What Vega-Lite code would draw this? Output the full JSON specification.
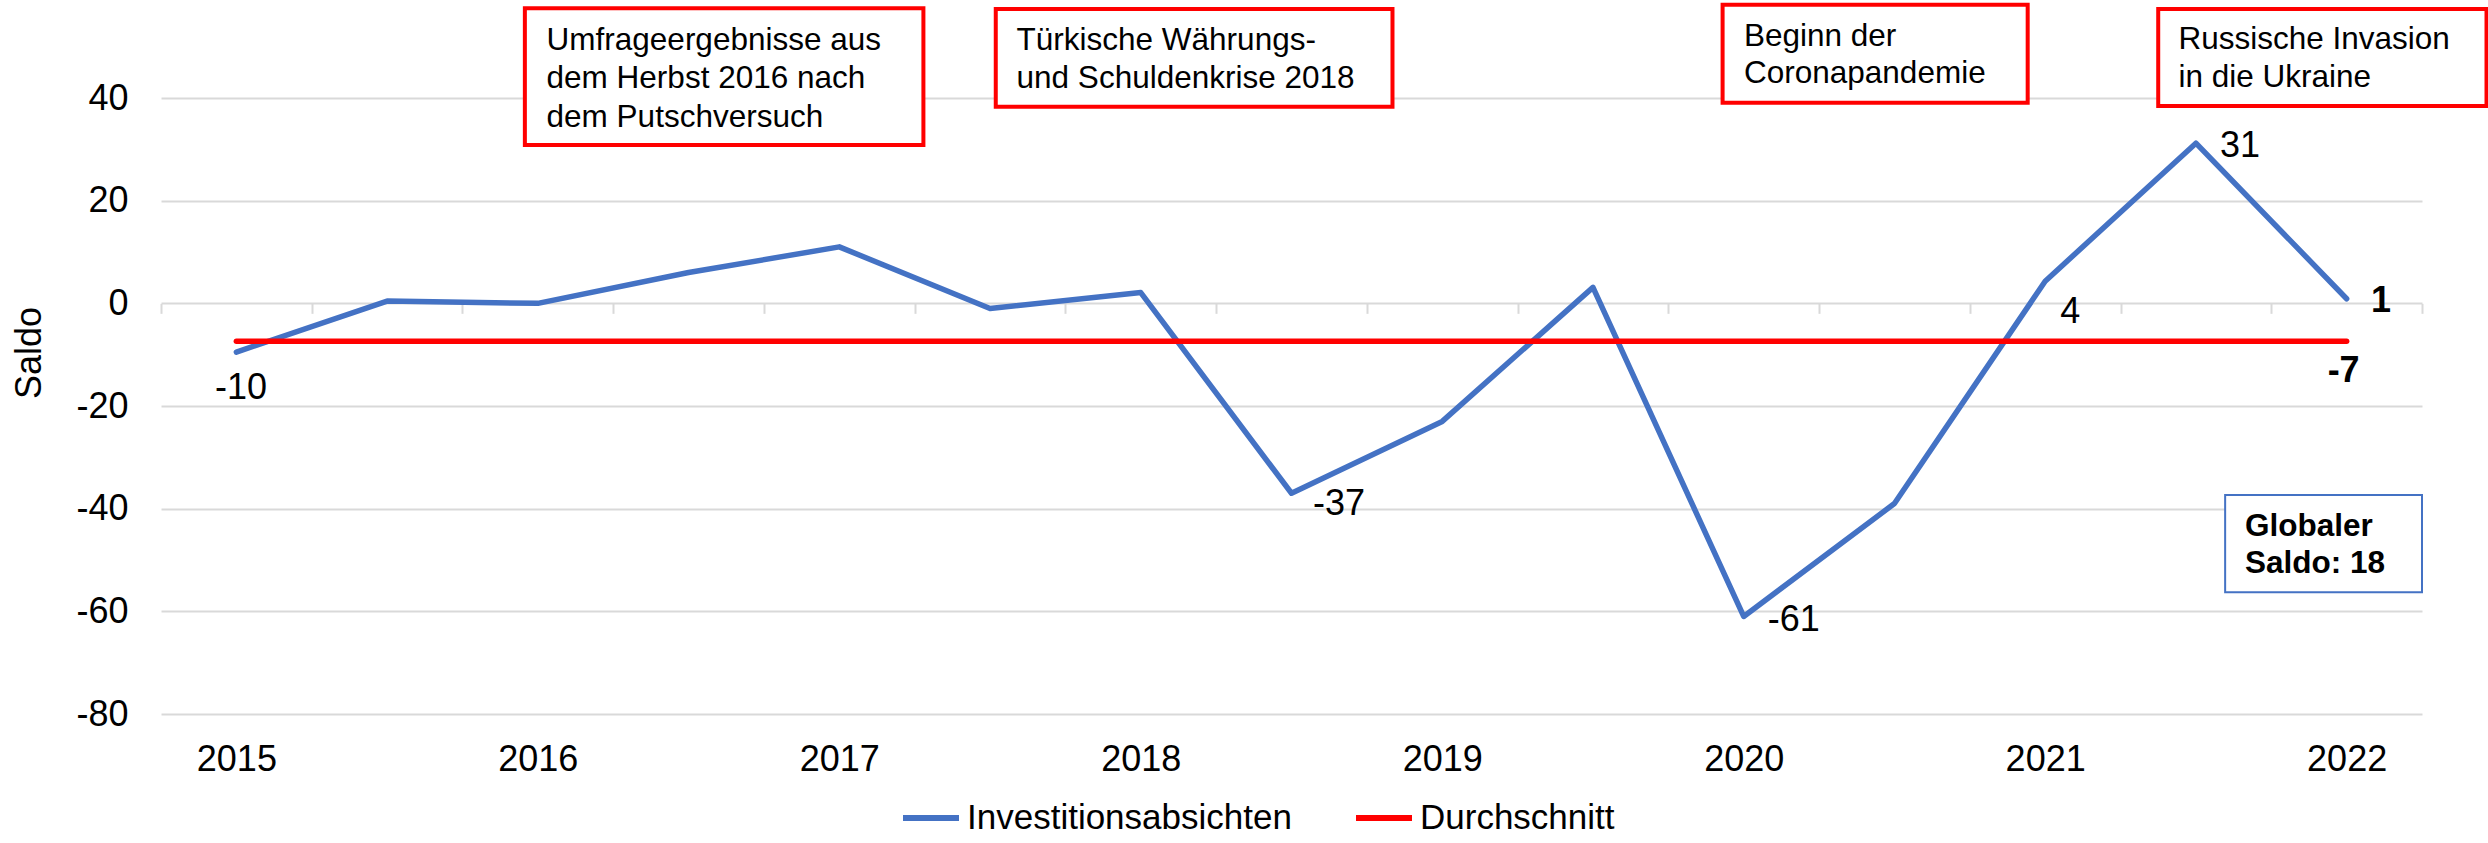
{
  "$schema": "https://vega.github.io/schema/vega-lite/v6.json",
  "width": 2261,
  "height": 616,
  "autosize": {"type": "none"},
  "padding": {"left": 161, "top": 98, "right": 66, "bottom": 129},
  "background": "white",
  "config": {
    "view": {"stroke": null},
    "font": "Liberation Sans",
    "locale": {"number": {"decimal": ".", "thousands": ",", "grouping": [3], "currency": ["", ""], "minus": "-"}},
    "axis": {"labelFont": "Liberation Sans", "labelColor": "#000000", "titleFont": "Liberation Sans", "titleColor": "#000000"},
    "text": {"font": "Liberation Sans", "color": "#000000"}
  },
  "datasets": {
    "series": [
      {"t": 2015, "Investitionsabsichten": -9.5, "Durchschnitt": -7.4},
      {"t": 2015.5, "Investitionsabsichten": 0.45, "Durchschnitt": -7.4},
      {"t": 2016, "Investitionsabsichten": 0, "Durchschnitt": -7.4},
      {"t": 2016.5, "Investitionsabsichten": 6, "Durchschnitt": -7.4},
      {"t": 2017, "Investitionsabsichten": 11, "Durchschnitt": -7.4},
      {"t": 2017.5, "Investitionsabsichten": -1, "Durchschnitt": -7.4},
      {"t": 2018, "Investitionsabsichten": 2.1, "Durchschnitt": -7.4},
      {"t": 2018.5, "Investitionsabsichten": -37, "Durchschnitt": -7.4},
      {"t": 2019, "Investitionsabsichten": -23, "Durchschnitt": -7.4},
      {"t": 2019.5, "Investitionsabsichten": 3.1, "Durchschnitt": -7.4},
      {"t": 2020, "Investitionsabsichten": -61, "Durchschnitt": -7.4},
      {"t": 2020.5, "Investitionsabsichten": -39, "Durchschnitt": -7.4},
      {"t": 2021, "Investitionsabsichten": 4.3, "Durchschnitt": -7.4},
      {"t": 2021.5, "Investitionsabsichten": 31.2, "Durchschnitt": -7.4},
      {"t": 2022, "Investitionsabsichten": 0.9, "Durchschnitt": -7.4}
    ],
    "boxes": [
      {"x1": 2015.957, "x2": 2017.279, "y1": 57.47, "y2": 30.84},
      {"x1": 2017.519, "x2": 2018.835, "y1": 57.34, "y2": 38.31},
      {"x1": 2019.93, "x2": 2020.942, "y1": 58.17, "y2": 39.08},
      {"x1": 2021.375, "x2": 2022.464, "y1": 57.34, "y2": 38.44}
    ],
    "gbox": [
      {"x1": 2021.597, "x2": 2022.25, "y1": -37.34, "y2": -56.29}
    ],
    "notes": [
      {"x": 2016.029, "y": 49.35, "text": "Umfrageergebnisse aus"},
      {"x": 2016.029, "y": 41.89, "text": "dem Herbst 2016 nach"},
      {"x": 2016.029, "y": 34.41, "text": "dem Putschversuch"},
      {"x": 2017.588, "y": 49.35, "text": "Türkische Währungs-"},
      {"x": 2017.588, "y": 41.89, "text": "und Schuldenkrise 2018"},
      {"x": 2020.001, "y": 50.13, "text": "Beginn der"},
      {"x": 2020.001, "y": 42.86, "text": "Coronapandemie"},
      {"x": 2021.442, "y": 49.49, "text": "Russische Invasion"},
      {"x": 2021.442, "y": 42.08, "text": "in die Ukraine"}
    ],
    "gnotes": [
      {"x": 2021.663, "y": -45.32, "text": "Globaler"},
      {"x": 2021.663, "y": -52.59, "text": "Saldo: 18"}
    ]
  },
  "layer": [
    {
      "layer": [
        {
          "data": {"name": "series"},
          "transform": [{"fold": ["Investitionsabsichten", "Durchschnitt"], "as": ["series", "value"]}],
          "mark": {"type": "line", "strokeWidth": 5.5, "strokeCap": "round", "strokeJoin": "round"},
          "encoding": {
            "x": {"field": "t", "type": "quantitative",
                  "scale": {"domain": [2014.75, 2022.25], "nice": false, "zero": false},
                  "axis": {"orient": "bottom", "values": [2015, 2016, 2017, 2018, 2019, 2020, 2021, 2022], "format": "d", "labelFontSize": 36, "labelPadding": 28, "ticks": false, "domain": false, "grid": false, "title": null, "labelFlush": false}},
            "y": {"field": "value", "type": "quantitative",
                  "scale": {"domain": [-80, 40], "nice": false, "zero": false},
                  "axis": {"values": [-80, -60, -40, -20, 0, 20, 40], "labelFontSize": 36, "labelPadding": 33, "ticks": false, "domain": false, "grid": true, "gridColor": "#D9D9D9", "gridWidth": 2, "title": "Saldo", "titleFontSize": 36, "titleFontWeight": "normal", "titleAngle": -90, "titleX": -132, "titleY": 254.5, "titleAlign": "center", "titleBaseline": "middle", "labelFlush": false}},
            "color": {"field": "series", "type": "nominal",
                      "scale": {"domain": ["Investitionsabsichten", "Durchschnitt"], "range": ["#4472C4", "#FF0000"]},
                      "legend": {"orient": "none", "legendX": 739, "legendY": 689, "direction": "horizontal", "title": null, "labelFontSize": 35, "labelFont": "Liberation Sans", "labelColor": "#000000", "labelLimit": 0, "symbolType": "stroke", "symbolSize": 3136, "symbolStrokeWidth": 6, "labelOffset": 5, "columnPadding": 52, "padding": 0}}
          }
        },
        {
          "data": {"name": "boxes"},
          "mark": {"type": "rect", "fill": "white", "stroke": "#FF0000", "strokeWidth": 4},
          "encoding": {
            "x": {"field": "x1", "type": "quantitative", "scale": {"domain": [2014.75, 2022.25], "nice": false, "zero": false}},
            "x2": {"field": "x2"},
            "y": {"field": "y1", "type": "quantitative", "scale": {"domain": [-80, 40], "nice": false, "zero": false}},
            "y2": {"field": "y2"}
          }
        },
        {
          "data": {"name": "gbox"},
          "mark": {"type": "rect", "fill": "white", "stroke": "#4472C4", "strokeWidth": 2},
          "encoding": {
            "x": {"field": "x1", "type": "quantitative", "scale": {"domain": [2014.75, 2022.25], "nice": false, "zero": false}},
            "x2": {"field": "x2"},
            "y": {"field": "y1", "type": "quantitative", "scale": {"domain": [-80, 40], "nice": false, "zero": false}},
            "y2": {"field": "y2"}
          }
        },
        {
          "data": {"name": "notes"},
          "mark": {"type": "text", "align": "left", "baseline": "alphabetic", "fontSize": 31.5},
          "encoding": {
            "x": {"field": "x", "type": "quantitative", "scale": {"domain": [2014.75, 2022.25], "nice": false, "zero": false}},
            "y": {"field": "y", "type": "quantitative", "scale": {"domain": [-80, 40], "nice": false, "zero": false}},
            "text": {"field": "text"}
          }
        },
        {
          "data": {"name": "gnotes"},
          "mark": {"type": "text", "align": "left", "baseline": "alphabetic", "fontSize": 31.5, "fontWeight": "bold"},
          "encoding": {
            "x": {"field": "x", "type": "quantitative", "scale": {"domain": [2014.75, 2022.25], "nice": false, "zero": false}},
            "y": {"field": "y", "type": "quantitative", "scale": {"domain": [-80, 40], "nice": false, "zero": false}},
            "text": {"field": "text"}
          }
        },
        {
          "data": {"name": "series"},
          "transform": [
            {"fold": ["Investitionsabsichten", "Durchschnitt"], "as": ["series", "value"]},
            {"filter": "datum.series === 'Investitionsabsichten' && (datum.t === 2020 || datum.t === 2021.5)"}
          ],
          "mark": {"type": "text", "align": "left", "baseline": "middle", "fontSize": 36, "dx": 24, "dy": 3.3},
          "encoding": {
            "x": {"field": "t", "type": "quantitative", "scale": {"domain": [2014.75, 2022.25], "nice": false, "zero": false}},
            "y": {"field": "value", "type": "quantitative", "scale": {"domain": [-80, 40], "nice": false, "zero": false}},
            "text": {"field": "value", "type": "quantitative", "format": ".0f"}
          }
        },
        {
          "data": {"name": "series"},
          "transform": [
            {"fold": ["Investitionsabsichten", "Durchschnitt"], "as": ["series", "value"]},
            {"filter": "datum.series === 'Investitionsabsichten' && datum.t === 2018.5"}
          ],
          "mark": {"type": "text", "align": "left", "baseline": "middle", "fontSize": 36, "dx": 21.5, "dy": 10.9},
          "encoding": {
            "x": {"field": "t", "type": "quantitative", "scale": {"domain": [2014.75, 2022.25], "nice": false, "zero": false}},
            "y": {"field": "value", "type": "quantitative", "scale": {"domain": [-80, 40], "nice": false, "zero": false}},
            "text": {"field": "value", "type": "quantitative", "format": ".0f"}
          }
        },
        {
          "data": {"name": "series"},
          "transform": [
            {"fold": ["Investitionsabsichten", "Durchschnitt"], "as": ["series", "value"]},
            {"filter": "datum.series === 'Investitionsabsichten' && datum.t === 2015"}
          ],
          "mark": {"type": "text", "align": "center", "baseline": "middle", "fontSize": 36, "dx": 4.6, "dy": 35.4},
          "encoding": {
            "x": {"field": "t", "type": "quantitative", "scale": {"domain": [2014.75, 2022.25], "nice": false, "zero": false}},
            "y": {"field": "value", "type": "quantitative", "scale": {"domain": [-80, 40], "nice": false, "zero": false}},
            "text": {"field": "value", "type": "quantitative", "format": ".0f"}
          }
        },
        {
          "data": {"name": "series"},
          "transform": [
            {"fold": ["Investitionsabsichten", "Durchschnitt"], "as": ["series", "value"]},
            {"filter": "datum.series === 'Investitionsabsichten' && datum.t === 2021"}
          ],
          "mark": {"type": "text", "align": "center", "baseline": "middle", "fontSize": 36, "dx": 25, "dy": 30.9},
          "encoding": {
            "x": {"field": "t", "type": "quantitative", "scale": {"domain": [2014.75, 2022.25], "nice": false, "zero": false}},
            "y": {"field": "value", "type": "quantitative", "scale": {"domain": [-80, 40], "nice": false, "zero": false}},
            "text": {"field": "value", "type": "quantitative", "format": ".0f"}
          }
        },
        {
          "data": {"name": "series"},
          "transform": [
            {"fold": ["Investitionsabsichten", "Durchschnitt"], "as": ["series", "value"]},
            {"filter": "datum.series === 'Investitionsabsichten' && datum.t === 2022"}
          ],
          "mark": {"type": "text", "align": "left", "baseline": "middle", "fontSize": 36, "fontWeight": "bold", "dx": 24.4, "dy": 2.5},
          "encoding": {
            "x": {"field": "t", "type": "quantitative", "scale": {"domain": [2014.75, 2022.25], "nice": false, "zero": false}},
            "y": {"field": "value", "type": "quantitative", "scale": {"domain": [-80, 40], "nice": false, "zero": false}},
            "text": {"field": "value", "type": "quantitative", "format": ".0f"}
          }
        },
        {
          "data": {"name": "series"},
          "transform": [
            {"fold": ["Investitionsabsichten", "Durchschnitt"], "as": ["series", "value"]},
            {"filter": "datum.series === 'Durchschnitt' && datum.t === 2022"}
          ],
          "mark": {"type": "text", "align": "center", "baseline": "middle", "fontSize": 36, "fontWeight": "bold", "dx": -3, "dy": 29.9},
          "encoding": {
            "x": {"field": "t", "type": "quantitative", "scale": {"domain": [2014.75, 2022.25], "nice": false, "zero": false}},
            "y": {"field": "value", "type": "quantitative", "scale": {"domain": [-80, 40], "nice": false, "zero": false}},
            "text": {"field": "value", "type": "quantitative", "format": ".0f"}
          }
        }
      ]
    },
    {
      "data": {"name": "series"},
      "mark": {"type": "point", "opacity": 0},
      "encoding": {
        "x": {"field": "t", "type": "quantitative",
              "scale": {"domain": [2014.75, 2022.25], "nice": false, "zero": false},
              "axis": {"orient": "bottom", "offset": -410.67, "values": [2014.75, 2015.25, 2015.75, 2016.25, 2016.75, 2017.25, 2017.75, 2018.25, 2018.75, 2019.25, 2019.75, 2020.25, 2020.75, 2021.25, 2021.75, 2022.25], "labels": false, "ticks": true, "tickSize": 10, "tickWidth": 2, "tickColor": "#D9D9D9", "domain": false, "grid": false, "title": null}}
      }
    }
  ],
  "resolve": {"axis": {"x": "independent"}}
}
